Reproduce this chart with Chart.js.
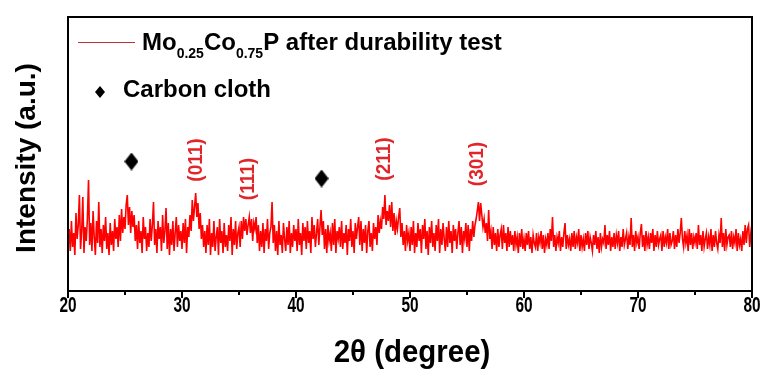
<!DOCTYPE html>
<html>
<head>
<meta charset="utf-8">
<script src="https://cdn.jsdelivr.net/npm/chart.js@4.4.0/dist/chart.umd.min.js"></script>
<style>
  body { margin: 0; background: #fff; }
  #wrap { width: 766px; height: 372px; position: relative; }
</style>
</head>
<body>
<div id="wrap"><canvas id="xrdChart"></canvas></div>
<script>
// 2theta grid: 0.1 degree steps, one array per 10 degrees
const thetaStart = 20;
const thetaStep = 0.1;

const int20s = [
    48, 62, 40, 70, 44, 58, 36, 78, 52, 66,
    96, 42, 60, 94, 38, 64, 50, 72, 111, 46,
    68, 40, 80, 54, 36, 70, 48, 89, 44, 62,
    38, 66, 50, 74, 42, 58, 36, 68, 46, 60,
    40, 72, 52, 64, 44, 76, 50, 82, 58, 74,
    62, 86, 96, 66, 84, 58, 80, 64, 76, 50,
    66, 42, 70, 48, 60, 38, 74, 52, 64, 40,
    58, 44, 72, 50, 66, 89, 46, 62, 38, 70,
    52, 64, 40, 76, 48, 60, 83, 42, 68, 36,
    62, 46, 70, 40, 58, 74, 44, 66, 50, 60
];
const int30s = [
    42, 68, 48, 72, 38, 64, 54, 76, 60, 91,
    70, 84, 98, 74, 88, 62, 78, 52, 66, 44,
    60, 38, 66, 46, 72, 36, 58, 44, 70, 40,
    54, 64, 36, 72, 48, 60, 38, 68, 44, 56,
    40, 66, 50, 74, 36, 62, 46, 70, 42, 58,
    64, 44, 70, 52, 74, 60, 72, 56, 66, 74,
    58, 72, 50, 68, 62, 74, 48, 66, 40, 60,
    44, 68, 38, 62, 50, 72, 42, 58, 64, 89,
    48, 66, 40, 60, 36, 70, 46, 56, 38, 68,
    52, 40, 64, 46, 70, 38, 58, 44, 66, 50
];
const int40s = [
    62, 40, 72, 46, 58, 36, 68, 50, 64, 42,
    70, 48, 60, 38, 74, 52, 66, 44, 58, 72,
    46, 64, 81, 56, 70, 42, 62, 38, 66, 50,
    58, 40, 68, 46, 72, 38, 60, 52, 64, 44,
    70, 42, 58, 48, 66, 36, 62, 50, 72, 44,
    60, 38, 68, 52, 64, 74, 46, 70, 40, 62,
    48, 66, 38, 60, 70, 44, 58, 40, 68, 52,
    64, 46, 76, 58, 70, 62, 84, 72, 96, 66,
    80, 70, 86, 64, 89, 60, 78, 56, 70, 62,
    74, 83, 54, 68, 46, 60, 40, 66, 50, 58
];
const int50s = [
    40, 64, 46, 70, 38, 58, 44, 68, 50, 62,
    38, 66, 52, 72, 42, 60, 36, 64, 48, 70,
    44, 58, 40, 66, 50, 72, 38, 62, 46, 68,
    52, 40, 64, 44, 70, 48, 60, 38, 66, 50,
    62, 42, 58, 70, 46, 64, 38, 60, 52, 68,
    44, 66, 40, 62, 50, 70, 54, 66, 72, 80,
    89, 70, 88, 76, 64, 72, 58, 68, 50, 81,
    52, 60, 42, 64, 46, 58, 40, 62, 44, 56,
    62, 42, 66, 48, 58, 40, 64, 44, 60, 46,
    56, 40, 60, 46, 54, 38, 58, 44, 62, 42
];
const int60s = [
    52, 40, 58, 46, 60, 42, 54, 38, 56, 48,
    44, 58, 40, 54, 48, 60, 42, 56, 38, 52,
    46, 58, 42, 62, 50, 74, 44, 56, 40, 54,
    48, 60, 40, 54, 44, 58, 68, 42, 56, 46,
    52, 40, 58, 44, 60, 42, 54, 48, 62, 40,
    56, 44, 52, 40, 58, 46, 60, 42, 54, 48,
    40, 56, 46, 60, 42, 54, 38, 58, 44, 52,
    48, 66, 42, 56, 46, 60, 40, 54, 44, 58,
    42, 56, 48, 60, 40, 54, 44, 62, 46, 52,
    58, 42, 54, 46, 73, 44, 56, 40, 60, 48
];
const int70s = [
    54, 42, 58, 67, 44, 56, 40, 60, 46, 54,
    42, 58, 48, 62, 40, 56, 44, 60, 46, 52,
    56, 40, 60, 44, 54, 48, 62, 42, 58, 46,
    50, 60, 42, 56, 44, 62, 48, 58, 73, 52,
    44, 60, 48, 56, 40, 62, 46, 58, 42, 54,
    48, 58, 42, 66, 46, 56, 40, 60, 44, 52,
    58, 42, 54, 46, 62, 40, 56, 44, 60, 48,
    42, 56, 48, 73, 44, 58, 40, 62, 46, 54,
    56, 44, 60, 42, 54, 48, 62, 40, 58, 46,
    52, 40, 60, 46, 66, 48, 62, 66, 44, 58,
    50
];

// carbon cloth markers
const ccTheta = [25.57, 42.24];
const ccHeight = [129.5, 112.5];

// peak labels
const peakLabels = ['(011)', '(111)', '(211)', '(301)'];
const peakTheta = [31.25, 35.8, 47.8, 55.96];
const peakHeight = [131, 112, 132, 127];

const xTicks = [20, 30, 40, 50, 60, 70, 80];
const xMinor = [25, 35, 45, 55, 65, 75];

const intensity = [].concat(int20s, int30s, int40s, int50s, int60s, int70s);
const points = intensity.map((v, i) => ({ x: +(thetaStart + i * thetaStep).toFixed(1), y: v }));

const FONT = '"Liberation Sans", Arial, sans-serif';

// tall diamond used as point style
function diamond(w, h) {
    const cv = document.createElement('canvas');
    cv.width = w; cv.height = h;
    const g = cv.getContext('2d');
    g.fillStyle = '#000';
    g.beginPath();
    g.moveTo(w / 2, 0);
    g.lineTo(w, h / 2);
    g.lineTo(w / 2, h);
    g.lineTo(0, h / 2);
    g.closePath();
    g.fill();
    return cv;
}

// narrow text: draw squeezed horizontally
function squeezed(c, text, x, y, sx) {
    c.save();
    c.translate(x, y);
    c.scale(sx, 1);
    c.fillText(text, 0, 0);
    c.restore();
}

const decor = {
    id: 'decor',
    afterDraw(chart) {
        const c = chart.ctx;
        const ca = chart.chartArea;
        const xs = chart.scales.x, ys = chart.scales.y;
        c.save();

        // frame
        c.strokeStyle = '#000';
        c.lineWidth = 2;
        c.strokeRect(ca.left, ca.top, ca.right - ca.left, ca.bottom - ca.top);

        // minor ticks
        xMinor.forEach(v => {
            const px = Math.round(xs.getPixelForValue(v));
            c.beginPath();
            c.moveTo(px, ca.bottom);
            c.lineTo(px, ca.bottom + 4);
            c.stroke();
        });

        // tick labels
        c.fillStyle = '#000';
        c.font = 'bold 22px ' + FONT;
        c.textAlign = 'center';
        c.textBaseline = 'middle';
        xTicks.forEach(v => squeezed(c, String(v), xs.getPixelForValue(v), ca.bottom + 15, 0.7));

        // peak labels
        c.fillStyle = '#e0262b';
        c.font = 'bold 20px ' + FONT;
        peakLabels.forEach((t, i) => {
            c.save();
            c.translate(xs.getPixelForValue(peakTheta[i]), ys.getPixelForValue(peakHeight[i]));
            c.rotate(-Math.PI / 2);
            c.scale(0.95, 1);
            c.fillText(t, 0, 0);
            c.restore();
        });

        // legend
        c.strokeStyle = '#b83236';
        c.lineWidth = 1;
        c.beginPath();
        c.moveTo(ca.left + 10, ca.top + 25.5);
        c.lineTo(ca.left + 67, ca.top + 25.5);
        c.stroke();

        c.fillStyle = '#000';
        c.textAlign = 'left';
        c.textBaseline = 'alphabetic';
        let x = ca.left + 74;
        const base = ca.top + 33;
        const parts = [['Mo', 0], ['0.25', 1], ['Co', 0], ['0.75', 1], ['P after durability test', 0]];
        parts.forEach(([t, sub]) => {
            c.font = sub ? 'bold 14px ' + FONT : 'bold 24px ' + FONT;
            c.fillText(t, x, sub ? base + 8 : base);
            x += c.measureText(t).width;
        });

        const dx = ca.left + 32, dy = ca.top + 75;
        c.beginPath();
        c.moveTo(dx, dy - 6);
        c.lineTo(dx + 5, dy);
        c.lineTo(dx, dy + 6);
        c.lineTo(dx - 5, dy);
        c.closePath();
        c.fill();
        c.font = 'bold 24px ' + FONT;
        c.fillText('Carbon cloth', ca.left + 55, ca.top + 80);

        // axis titles
        c.textAlign = 'center';
        c.textBaseline = 'middle';
        c.font = 'bold 31px ' + FONT;
        squeezed(c, '2\u03b8 (degree)', (ca.left + ca.right) / 2 + 2, ca.bottom + 62, 0.95);

        c.save();
        c.translate(27, (ca.top + ca.bottom) / 2 + 4);
        c.rotate(-Math.PI / 2);
        c.font = 'bold 28px ' + FONT;
        c.fillText('Intensity (a.u.)', 0, 0);
        c.restore();

        c.restore();
    }
};

new Chart(document.getElementById('xrdChart').getContext('2d'), {
    type: 'line',
    data: {
        datasets: [
            {
                type: 'scatter',
                label: 'Carbon cloth',
                data: ccTheta.map((t, i) => ({ x: t, y: ccHeight[i] })),
                pointStyle: diamond(14, 18),
                backgroundColor: '#000',
                borderColor: '#000',
                showLine: false
            },
            {
                label: 'Mo0.25Co0.75P after durability test',
                data: points,
                borderColor: '#ff0000',
                borderWidth: 1.6,
                pointRadius: 0,
                tension: 0
            }
        ]
    },
    options: {
        responsive: true,
        maintainAspectRatio: false,
        animation: false,
        events: [],
        layout: { padding: { left: 68, right: 14, top: 17, bottom: 0 } },
        plugins: { legend: { display: false }, tooltip: { enabled: false } },
        scales: {
            x: {
                type: 'linear',
                min: 20,
                max: 80,
                afterBuildTicks: s => { s.ticks = xTicks.map(v => ({ value: v })); },
                afterFit: s => { s.height = 81; },
                grid: { drawOnChartArea: false, drawTicks: true, tickLength: 7, color: '#000', lineWidth: 2 },
                border: { display: false },
                ticks: { display: false }
            },
            y: { display: false, min: 0, max: 274 }
        }
    },
    plugins: [decor]
});
</script>
</body>
</html>
